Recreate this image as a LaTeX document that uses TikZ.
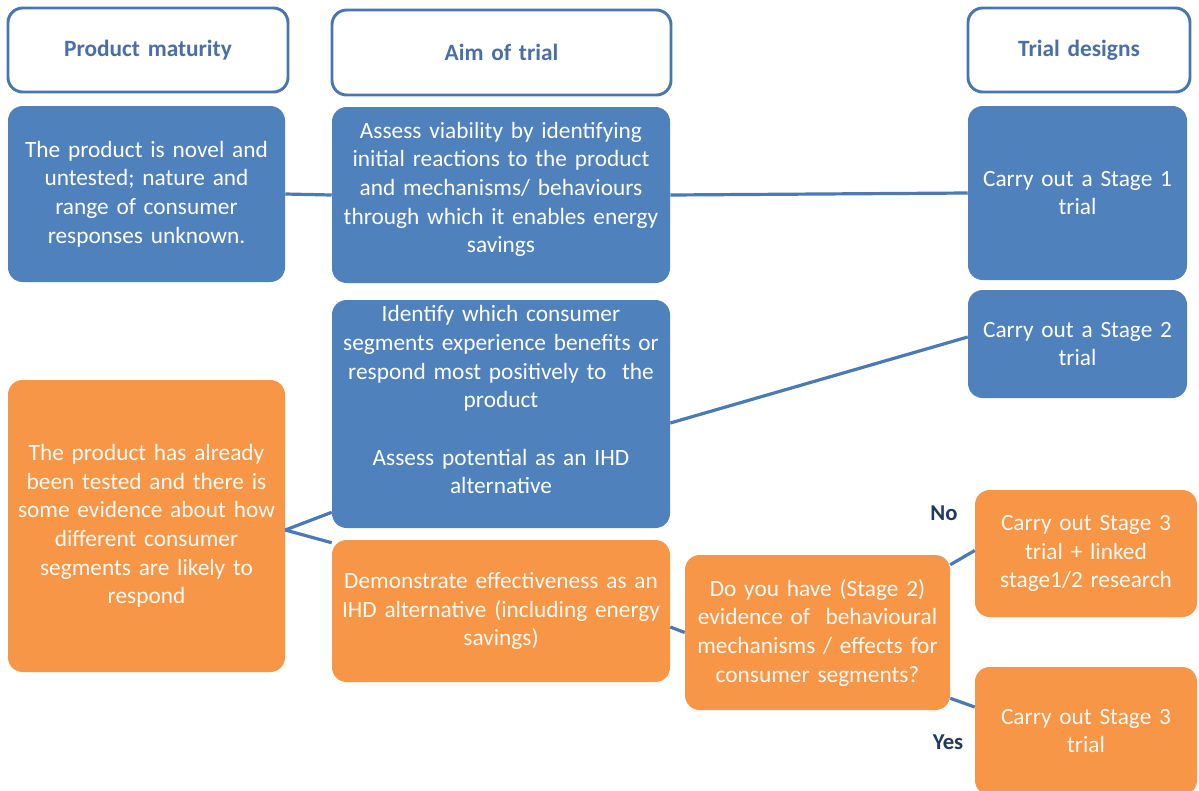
\documentclass[tikz,border=0pt]{standalone}
\usepackage{fontspec}
\setmainfont{Carlito}
\usetikzlibrary{calc}
\definecolor{bbl}{HTML}{4F81BD}
\definecolor{orn}{HTML}{F79646}
\definecolor{hdr}{HTML}{4A76AE}
\definecolor{htxt}{HTML}{4A6FA5}
\definecolor{lnk}{HTML}{4A7AB5}
\definecolor{navy}{HTML}{1F3A60}
\begin{document}
\begin{tikzpicture}[x=0.75pt,y=-0.75pt,
  sz/.style 2 args={minimum width=#1*0.75pt,minimum height=#2*0.75pt,text width=#1*0.75pt-12pt},
  box/.style={rounded corners=11pt, inner sep=0pt, align=center,
    font=\fontsize{17.5}{21.5}\selectfont, text=white},
  bluebox/.style={box, fill=bbl},
  orbox/.style={box, fill=orn, text=white!96!orange},
  head/.style={box, draw=hdr, line width=2.2pt, fill=white, text=htxt,
    font=\fontsize{17.5}{21.5}\selectfont\bfseries},
  link/.style={draw=lnk, line width=2.4pt},
  lab/.style={inner sep=0pt, text=navy, font=\fontsize{17}{20}\selectfont\bfseries}]
\clip (0,0) rectangle (1199,790);
\fill[white] (0,0) rectangle (1199,790);

% headers
\node[head, sz={280}{84}] (hPM) at (148,50) {Product maturity};
\node[head, sz={339}{85}] (hAim) at (501.5,52.5) {Aim of trial};
\node[head, sz={222}{84}] (hTD) at (1079,50) {Trial designs};

% blue boxes
\node[bluebox, sz={277}{176}] (bNovel) at (146.5,194)
  {The product is novel and\\ untested; nature and\\ range of consumer\\ responses unknown.};
\node[bluebox, sz={338}{176}] (bAssess) at (501,195)
  {Assess viability by identifying\\ initial reactions to the product\\ and mechanisms/ behaviours\\ through which it enables energy\\ savings\\[-10pt]\mbox{}};
\node[bluebox, sz={219}{174}] (bS1) at (1077.5,193)
  {Carry out a Stage 1\\ trial};
\node[bluebox, sz={338}{228}] (bIdent) at (501,414)
  {Identify which consumer\\ segments experience benefits or\\ respond most positively to~ the\\ product\\[21.5pt] Assess potential as an IHD\\ alternative\\ \mbox{}};
\node[bluebox, sz={219}{108}] (bS2) at (1077.5,344)
  {Carry out a Stage 2\\ trial};

% orange boxes
\node[orbox, sz={277}{292}] (oTested) at (146.5,526)
  {The product has already\\ been tested and there is\\ some evidence about how\\ different consumer\\ segments are likely to\\ respond};
\node[orbox, sz={338}{142}] (oDemo) at (501,611)
  {Demonstrate effectiveness as an\\ IHD alternative (including energy\\ savings)};
\node[orbox, sz={265}{155}] (oQ) at (817.5,632.5)
  {Do you have (Stage 2)\\ evidence of~ behavioural\\ mechanisms / effects for\\ consumer segments?};
\node[orbox, sz={222}{127}] (oS3L) at (1086,553.5)
  {Carry out Stage 3\\ trial + linked\\ stage1/2 research};
\node[orbox, sz={222}{128}] (oS3) at (1086,731)
  {Carry out Stage 3\\ trial};

% labels
\node[lab] (lNo) at (944,513) {No};
\node[lab] (lYes) at (948,742) {Yes};

% connectors
\draw[link] (bNovel.east) -- (bAssess.west);
\draw[link] (bAssess.east) -- (bS1.west);
\draw[link] ($(bIdent.east)+(0,9)$) -- ($(bS2.west)+(0,-7)$);
\draw[link] ($(oTested.east)+(0,4)$) -- ($(bIdent.south west)+(0,-16)$);
\draw[link] ($(oTested.east)+(0,4)$) -- ($(oDemo.north west)+(0,3)$);
\draw[link] ($(oDemo.east)+(0,16)$) -- (oQ.west);
\draw[link] ($(oQ.north east)+(0,10)$) -- ($(oS3L.west)+(0,-3)$);
\draw[link] ($(oQ.south east)+(0,-12)$) -- ($(oS3.west)+(0,-24)$);
\end{tikzpicture}
\end{document}
